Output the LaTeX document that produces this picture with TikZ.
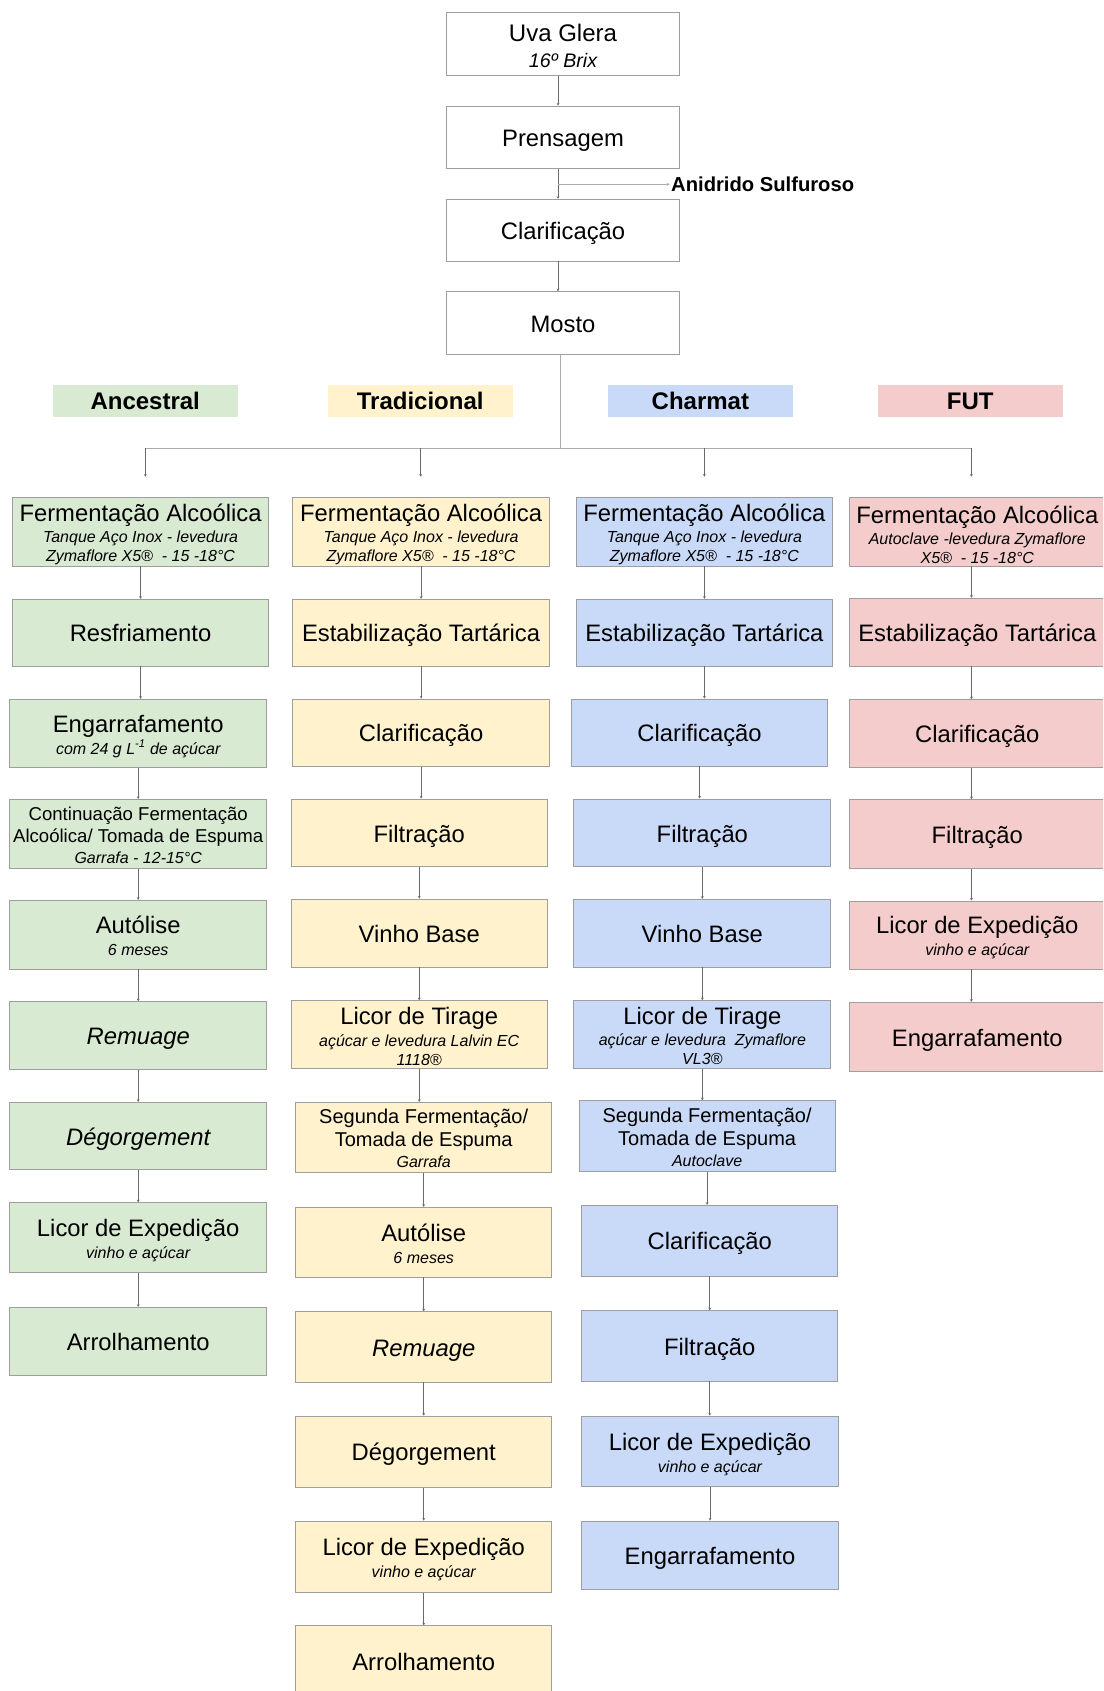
\documentclass[tikz,border=0pt]{standalone}
\usepackage{fontspec}
\setmainfont{Liberation Sans}
\usetikzlibrary{arrows.meta}
\definecolor{cgreen}{HTML}{D9EAD3}
\definecolor{cyellow}{HTML}{FFF2CC}
\definecolor{cblue}{HTML}{C9DAF8}
\definecolor{cpink}{HTML}{F4CCCC}
\definecolor{bordergray}{HTML}{9E9E9E}
\definecolor{linegray}{HTML}{6A6A6A}
\definecolor{branchgray}{HTML}{ABABAB}
\newcommand\mainsz{\fontsize{23.8}{26}\selectfont}
\newcommand\subsz{\fontsize{16}{19}\selectfont\itshape}
\newcommand\midsz{\fontsize{18.6}{21}\selectfont}
\newcommand\segsz{\fontsize{20}{22}\selectfont}
\newcommand\lstrut{\rule[-0.22em]{0pt}{1.22em}}
% multi-line box: [text shift down] name fill cx cy w h text
\newcommand\flowbox[8][2.5]{%
  \node[box,fill=#3,minimum width=#6pt,minimum height=#7pt] (#2) at (#4,#5) {};
  \node[boxtext] (#2t) at ([yshift=-#1pt]#2.center) {#8};}
% single-line box: name fill cx cy w h text
\newcommand\onebox[7]{%
  \node[box,fill=#2,minimum width=#5pt,minimum height=#6pt] (#1) at (#3,#4) {\mainsz\lstrut #7};}
\begin{document}
\begin{tikzpicture}[x=1pt,y=-1pt,
  box/.style={draw=bordergray,line width=0.9pt,rectangle,inner sep=0pt,align=center,
    font=\fontsize{16}{19}\selectfont,text=black},
  boxtext/.style={inner sep=0pt,align=center,font=\fontsize{16}{19}\selectfont,text=black},
  hdr/.style={rectangle,inner sep=0pt,minimum width=184.6pt,minimum height=31.7pt,
    font=\fontsize{24}{28}\selectfont\bfseries,text=black},
  conn/.style={draw=linegray,line width=0.8pt,-{Stealth[length=2.6pt,width=2.8pt]}},
  branch/.style={draw=branchgray,line width=1pt}]
\clip (0,0) rectangle (1103,1691);
\fill[white] (0,0) rectangle (1103,1691);

% ---------- top chain ----------
\flowbox[1.8]{uva}{white}{563}{44}{232.6}{62.6}{{\fontsize{24}{26}\selectfont Uva Glera}\\[6.7pt]{\fontsize{19.6}{22}\selectfont\itshape 16º Brix}}
\onebox{pren}{white}{563}{137.35}{232.6}{62.6}{Prensagem}
\onebox{clar}{white}{563}{230.15}{232.6}{61.7}{Clarificação}
\onebox{mosto}{white}{563}{323}{232.6}{62.6}{Mosto}
\node[anchor=west,inner sep=1.5pt,font=\fontsize{20.2}{24}\selectfont\bfseries] (anid) at (669.5,184.3) {Anidrido Sulfuroso};

\coordinate (tx) at (558,0);
\coordinate (hub) at (560,448.3);
\coordinate (dA) at (145.4,476.7);
\coordinate (dT) at (420.7,476.7);
\coordinate (dC) at (704.4,476.7);
\coordinate (dF) at (971.4,476.7);

% ---------- headers ----------
\node[hdr,fill=cgreen] (hA) at (145.2,401.3) {Ancestral};
\node[hdr,fill=cyellow] (hT) at (420.2,401.3) {Tradicional};
\node[hdr,fill=cblue] (hC) at (700.4,401.3) {Charmat};
\node[hdr,fill=cpink] (hF) at (970.2,401.3) {FUT};

% ---------- Ancestral ----------
\flowbox[3]{a1}{cgreen}{140.55}{531.85}{256.1}{68.3}{{\mainsz Fermentação Alcoólica}\\[2pt]{\subsz Tanque Aço Inox - levedura}\\{\subsz Zymaflore X5®\ \ - 15 -18°C}}
\onebox{a2}{cgreen}{140.55}{632.65}{256.1}{66.7}{Resfriamento}
\flowbox[3]{a3}{cgreen}{138.2}{733.3}{257.2}{68}{{\mainsz Engarrafamento}\\[2.8pt]{\subsz com 24 g L\textsuperscript{-1} de açúcar}}
\flowbox[1.5]{a4}{cgreen}{138.2}{833.8}{257.2}{69}{{\midsz Continuação Fermentação}\\[2.7pt]{\midsz Alcoólica/ Tomada de Espuma}\\[1.7pt]{\subsz Garrafa - 12-15°C}}
\flowbox[1.2]{a5}{cgreen}{138.2}{934.65}{257.2}{68.7}{{\mainsz Autólise}\\[2.8pt]{\subsz 6 meses}}
\onebox{a6}{cgreen}{138.2}{1035.5}{257.2}{67.6}{\itshape Remuage}
\onebox{a7}{cgreen}{138.2}{1135.8}{257.2}{67}{\itshape Dégorgement}
\flowbox[3]{a8}{cgreen}{138.2}{1237.5}{257.2}{69.6}{{\mainsz Licor de Expedição}\\[2.8pt]{\subsz vinho e açúcar}}
\onebox{a9}{cgreen}{138.2}{1341.3}{257.2}{68}{Arrolhamento}

% ---------- Tradicional ----------
\flowbox[3]{t1}{cyellow}{421.1}{531.85}{256.4}{68.3}{{\mainsz Fermentação Alcoólica}\\[2pt]{\subsz Tanque Aço Inox - levedura}\\{\subsz Zymaflore X5®\ \ - 15 -18°C}}
\onebox{t2}{cyellow}{421.1}{632.65}{256.4}{66.7}{Estabilização Tartárica}
\onebox{t3}{cyellow}{421.1}{732.65}{256.4}{67.3}{Clarificação}
\onebox{t4}{cyellow}{419.2}{832.85}{256.4}{67.7}{Filtração}
\onebox{t5}{cyellow}{419.2}{933}{256.4}{68}{Vinho Base}
\flowbox[2]{t6}{cyellow}{419.2}{1034.5}{256.4}{67.6}{{\mainsz Licor de Tirage}\\[2.5pt]{\subsz açúcar e levedura Lalvin EC}\\{\subsz 1118®}}
\flowbox[0.6]{t7}{cyellow}{423.7}{1137.3}{256}{70}{{\segsz Segunda Fermentação/}\\[4.3pt]{\segsz Tomada de Espuma}\\[1.8pt]{\subsz Garrafa}}
\flowbox[2]{t8}{cyellow}{423.7}{1242.15}{256}{69.7}{{\mainsz Autólise}\\[2.8pt]{\subsz 6 meses}}
\onebox{t9}{cyellow}{423.7}{1346.85}{256}{70.3}{\itshape Remuage}
\onebox{t10}{cyellow}{423.75}{1451.65}{255.7}{71.3}{Dégorgement}
\flowbox[3]{t11}{cyellow}{423.75}{1556.65}{255.7}{71.3}{{\mainsz Licor de Expedição}\\[2.8pt]{\subsz vinho e açúcar}}
\onebox{t12}{cyellow}{423.75}{1661.35}{255.7}{71.3}{Arrolhamento}

% ---------- Charmat ----------
\flowbox[3]{c1}{cblue}{704.4}{531.85}{256.2}{68.3}{{\mainsz Fermentação Alcoólica}\\[2pt]{\subsz Tanque Aço Inox - levedura}\\{\subsz Zymaflore X5®\ \ - 15 -18°C}}
\onebox{c2}{cblue}{704.4}{632.65}{256.2}{66.7}{Estabilização Tartárica}
\onebox{c3}{cblue}{699.55}{732.5}{256.3}{67}{Clarificação}
\onebox{c4}{cblue}{702.35}{832.85}{256.9}{67.7}{Filtração}
\onebox{c5}{cblue}{702.35}{933.15}{256.9}{67.7}{Vinho Base}
\flowbox[1.6]{c6}{cblue}{702.35}{1034.5}{256.9}{67.6}{{\mainsz Licor de Tirage}\\[2.5pt]{\subsz açúcar e levedura\ \ Zymaflore}\\{\subsz VL3®}}
\flowbox[1]{c7}{cblue}{707.15}{1136}{256.3}{70.6}{{\segsz Segunda Fermentação/}\\[4.3pt]{\segsz Tomada de Espuma}\\[1.8pt]{\subsz Autoclave}}
\onebox{c8}{cblue}{709.75}{1240.65}{255.9}{70.7}{Clarificação}
\onebox{c9}{cblue}{709.75}{1345.85}{255.9}{70.3}{Filtração}
\flowbox[3]{c10}{cblue}{710}{1451.35}{256.4}{70.7}{{\mainsz Licor de Expedição}\\[2.8pt]{\subsz vinho e açúcar}}
\onebox{c11}{cblue}{710}{1555}{256.4}{68}{Engarrafamento}

% ---------- FUT ----------
\flowbox[2.6]{f1}{cpink}{977.3}{531.85}{256.2}{68.3}{{\mainsz Fermentação Alcoólica}\\[2pt]{\subsz Autoclave -levedura Zymaflore}\\{\subsz X5®\ \ - 15 -18°C}}
\onebox{f2}{cpink}{977.3}{632.15}{256.2}{67.7}{Estabilização Tartárica}
\onebox{f3}{cpink}{977.3}{733.5}{256.2}{67.6}{Clarificação}
\onebox{f4}{cpink}{977.3}{834}{256.2}{68.6}{Filtração}
\flowbox[2.2]{f5}{cpink}{977.3}{935}{256.2}{68}{{\mainsz Licor de Expedição}\\[2.8pt]{\subsz vinho e açúcar}}
\onebox{f6}{cpink}{977.3}{1037}{256.2}{69.4}{Engarrafamento}

% ---------- connectors ----------
\draw[conn] (tx |- uva.south) -- (tx |- pren.north);
\draw[conn] (tx |- pren.south) -- (tx |- clar.north);
\draw[conn] (tx |- clar.south) -- (tx |- mosto.north);
\draw[branch,-{Stealth[length=2.6pt,width=2.8pt]}] (tx |- anid.west) -- (anid.west);

\draw[branch] (hub |- mosto.south) -- (hub);
\draw[branch] (dA |- hub) -- (dF |- hub);
\foreach \d in {dA,dT,dC,dF}{\draw[conn] (\d |- hub) -- (\d);}

\foreach \p/\q in {a1/a2,a2/a3,a3/a4,a4/a5,a5/a6,a6/a7,a7/a8,a8/a9,
                   t1/t2,t2/t3,t3/t4,t4/t5,t5/t6,t6/t7,t7/t8,t8/t9,t9/t10,t10/t11,t11/t12,
                   c1/c2,c2/c3,c3/c4,c4/c5,c5/c6,c6/c7,c7/c8,c8/c9,c9/c10,c10/c11}
  {\draw[conn] (\p.south) -- (\p.south |- \q.north);}
\foreach \p/\q in {f1/f2,f2/f3,f3/f4,f4/f5,f5/f6}
  {\draw[conn] (dF |- \p.south) -- (dF |- \q.north);}
\end{tikzpicture}
\end{document}
